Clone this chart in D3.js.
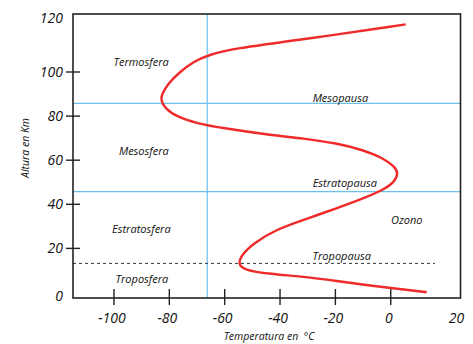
<!DOCTYPE html>
<html><head><meta charset="utf-8">
<script src="https://cdn.jsdelivr.net/npm/d3@7"></script>
<style>
body{margin:0;background:#fff;}
text{font-family:"Open Sans","Liberation Sans",sans-serif;font-style:italic;fill:#111;}
</style></head>
<body><svg id="c" width="473" height="344"></svg>
<script>
// Temperature profile (altitude km, temperature °C)
const altitude =    [0.1, 1.4, 3.1, 5.2, 7.2, 8.4, 10.2, 13.2, 17, 22.3, 28.7, 32.9, 38.2, 42.7, 46.5, 50.3, 54.1, 57.0, 60.9, 64.6, 67.7, 69.9, 71.4, 74.5, 76.7, 79.7, 83.5, 87.3, 89.6, 94.9, 100.1, 104.7, 107.7, 110.7, 114.5, 121.6];
const temperature = [13, 4.5, -7.5, -19.5, -31.6, -43.6, -53.3, -55.1, -53.9, -49.7, -41.2, -31.6, -19.5, -9.9, -2.7, 1.5, 2.7, 1.5, -2.7, -9.9, -19.5, -31.6, -43.6, -60.5, -70.1, -77.3, -81.6, -83.1, -82.8, -80.4, -76.1, -71.3, -65.9, -56.9, -32.8, 5.4];
const xTicks = [-100, -80, -60, -40, -20, 0, 20];
const yTicks = [0, 20, 40, 60, 80, 100, 120];
const boundaryAltitudes = [85.8, 45.7];   // mesopausa, estratopausa
const tropopauseAltitude = 13.2;
const verticalTemp = -66.3;
const layerNames = ["Termosfera", "Mesosfera", "Estratosfera", "Troposfera"];
const layerAltitudes = [104.5, 64.3, 28.5, 5.9];
const layerTemps = [-90.2, -89.2, -90.1, -89.9];
const pauseNames = ["Mesopausa", "Estratopausa", "Ozono", "Tropopausa"];
const pauseAltitudes = [88.3, 49.7, 32.6, 16.4];
const pauseTemps = [-18.2, -16.6, 5.8, -17.7];

const svg = d3.select("#c");
const L = 73, R = 460.5, T = 14, B = 298;
const x = d3.scaleLinear().domain([-114.8, 25.2]).range([L, R]);
const y = d3.scaleLinear().domain([-2.5, 126.3]).range([B, T]);

// reference lines
const blue = "#6cc0ec";
svg.selectAll("line.hb").data(boundaryAltitudes).join("line")
  .attr("x1", L).attr("x2", R).attr("y1", d => y(d)).attr("y2", d => y(d))
  .attr("stroke", blue).attr("stroke-width", 1.2);
svg.append("line").attr("x1", x(verticalTemp)).attr("x2", x(verticalTemp))
  .attr("y1", T).attr("y2", B).attr("stroke", blue).attr("stroke-width", 1.2);
svg.append("line").attr("x1", L).attr("x2", x(16)).attr("y1", y(tropopauseAltitude)).attr("y2", y(tropopauseAltitude))
  .attr("stroke", "#333").attr("stroke-width", 1).attr("stroke-dasharray", "3,3");

// frame
svg.append("rect").attr("x", L).attr("y", T).attr("width", R - L).attr("height", B - T)
  .attr("fill", "none").attr("stroke", "#222").attr("stroke-width", 1.6);

// ticks
const xt = xTicks.filter(v => v !== 20);
svg.selectAll("line.xt").data(xt).join("line")
  .attr("x1", d => x(d)).attr("x2", d => x(d)).attr("y1", B - 9).attr("y2", B + 7)
  .attr("stroke", "#222").attr("stroke-width", 1.4);
svg.selectAll("text.xl").data(xTicks).join("text")
  .attr("x", d => d === 20 ? R - 4 : x(d) - 2).attr("y", 323)
  .attr("text-anchor", "middle").attr("font-size", 14).text(d => d);
const yt = yTicks.filter(v => v !== 0 && v !== 120);
svg.selectAll("line.yt").data(yt).join("line")
  .attr("x1", L - 7).attr("x2", L + 7).attr("y1", d => y(d)).attr("y2", d => y(d))
  .attr("stroke", "#222").attr("stroke-width", 1.4);
svg.selectAll("text.yl").data(yTicks).join("text")
  .attr("x", 63).attr("y", d => d === 120 ? T + 4 : d === 0 ? B - 2 : y(d))
  .attr("dy", "0.35em").attr("text-anchor", "end").attr("font-size", 14).text(d => d);

// axis titles
svg.append("text").attr("transform", "translate(29,148) rotate(-90)")
  .attr("text-anchor", "middle").attr("font-size", 10.5).text("Altura en Km");
svg.append("text").attr("x", 269).attr("y", 340).attr("text-anchor", "middle")
  .attr("font-size", 10.5).attr("xml:space", "preserve").text("Temperatura en  °C");

// curve
const pts = altitude.map((h, i) => [temperature[i], h]);
svg.append("path").datum(pts)
  .attr("d", d3.line().x(d => x(d[0])).y(d => y(d[1])).curve(d3.curveBasis))
  .attr("fill", "none").attr("stroke", "#ee2a2a").attr("stroke-width", 2.4);

// labels
svg.selectAll("text.ly").data(layerNames).join("text")
  .attr("x", (d, i) => x(layerTemps[i])).attr("y", (d, i) => y(layerAltitudes[i]))
  .attr("dy", "0.35em").attr("text-anchor", "middle").attr("font-size", 11).text(d => d);
svg.selectAll("text.pz").data(pauseNames).join("text")
  .attr("x", (d, i) => x(pauseTemps[i])).attr("y", (d, i) => y(pauseAltitudes[i]))
  .attr("dy", "0.35em").attr("text-anchor", "middle").attr("font-size", 11).text(d => d);
</script></body></html>
